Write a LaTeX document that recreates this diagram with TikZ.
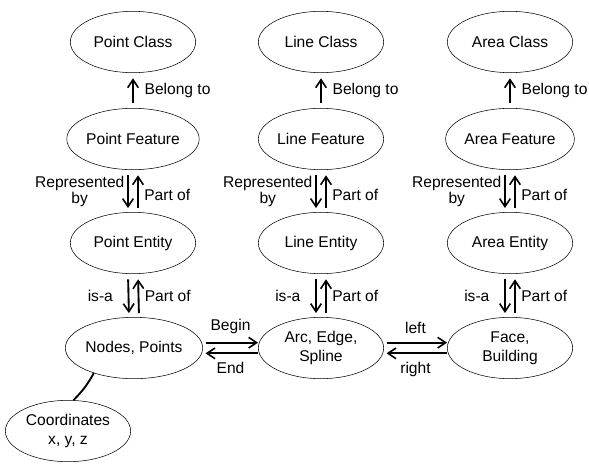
\documentclass[tikz,border=0pt]{standalone}
\usepackage{fontspec}
\setmainfont{Liberation Sans}
\usetikzlibrary{shapes.geometric, arrows.meta}
\begin{document}
\begin{tikzpicture}[
            x=0.75pt, y=-0.75pt,
            ent/.style={ellipse, draw, thin, inner sep=0pt, minimum width=94pt, minimum height=46pt, align=center, font=\fontsize{11.7}{14}\selectfont},
            rel/.style={line width=1.4pt, -{Straight Barb[length=6pt,width=8pt,line width=1.2pt]}},
            lbl/.style={font=\fontsize{11.7}{12}\selectfont, align=center, inner sep=1pt},
        ]
            \useasboundingbox (0,0) rectangle (589,465);

            % Class / feature / entity columns
            \node[ent] (pclass) at (133, 42) {Point Class};
            \node[ent] (lclass) at (321, 42) {Line Class};
            \node[ent] (aclass) at (510, 42) {Area Class};
            \node[ent] (pfeat) at (133, 139) {Point Feature};
            \node[ent] (lfeat) at (321, 139) {Line Feature};
            \node[ent] (afeat) at (510, 139) {Area Feature};
            \node[ent] (pent) at (133, 243) {Point Entity};
            \node[ent] (lent) at (321, 243) {Line Entity};
            \node[ent] (aent) at (510, 243) {Area Entity};

            % Topology row
            \node[ent] (nodes) at (134, 348) {Nodes, Points};
            \node[ent] (arc) at (321, 348) {Arc, Edge,\\Spline};
            \node[ent] (face) at (510, 348) {Face,\\Building};
            \node[ent] (coord) at (68, 431) {Coordinates\\x, y, z};

            % Feature belongs to class
            \foreach \c in {p, l, a} {
                \draw[rel, shorten <=4pt, shorten >=4pt] (\c feat.north) -- node[lbl, right=7pt] {Belong to} (\c class.south);
            }

            % Feature <-> entity, entity <-> topology
            \foreach \c/\b in {p/nodes, l/arc, a/face} {
                \draw[rel, shorten <=4pt, shorten >=3pt] ([xshift=-3.75pt]\c feat.south) -- node[lbl, left=1pt] {Represented\\by} ([xshift=-3.75pt]\c ent.north);
                \draw[rel, shorten <=3pt, shorten >=4pt] ([xshift=3.75pt]\c ent.north) -- node[lbl, right=3pt, yshift=-3pt] {Part of} ([xshift=3.75pt]\c feat.south);
                \draw[rel, shorten <=4pt, shorten >=3pt] ([xshift=-3.75pt]\c ent.south) -- node[lbl, left=10pt] {is-a} ([xshift=-3.75pt]\b.north);
                \draw[rel, shorten <=3pt, shorten >=4pt] ([xshift=3.75pt]\b.north) -- node[lbl, right=3pt] {Part of} ([xshift=3.75pt]\c ent.south);
            }

            % Arc end points and faces
            \draw[rel, shorten <=2pt] ([yshift=4pt]nodes.east) -- node[lbl, above=5pt] {Begin} ([yshift=4pt]arc.west);
            \draw[rel, shorten >=2pt] ([yshift=-4pt]arc.west) -- node[lbl, below=5pt] {End} ([yshift=-4pt]nodes.east);
            \draw[rel, shorten <=2pt] ([yshift=4pt]arc.east) -- node[lbl, above=5pt] {left} ([yshift=4pt]face.west);
            \draw[rel, shorten >=2pt] ([yshift=-4pt]face.west) -- node[lbl, below=5pt] {right} ([yshift=-4pt]arc.east);

            % Geometry of the nodes
            \draw[line width=1.4pt] (nodes.212) to[bend left=8] (coord.80);
        \end{tikzpicture}
\end{document}
